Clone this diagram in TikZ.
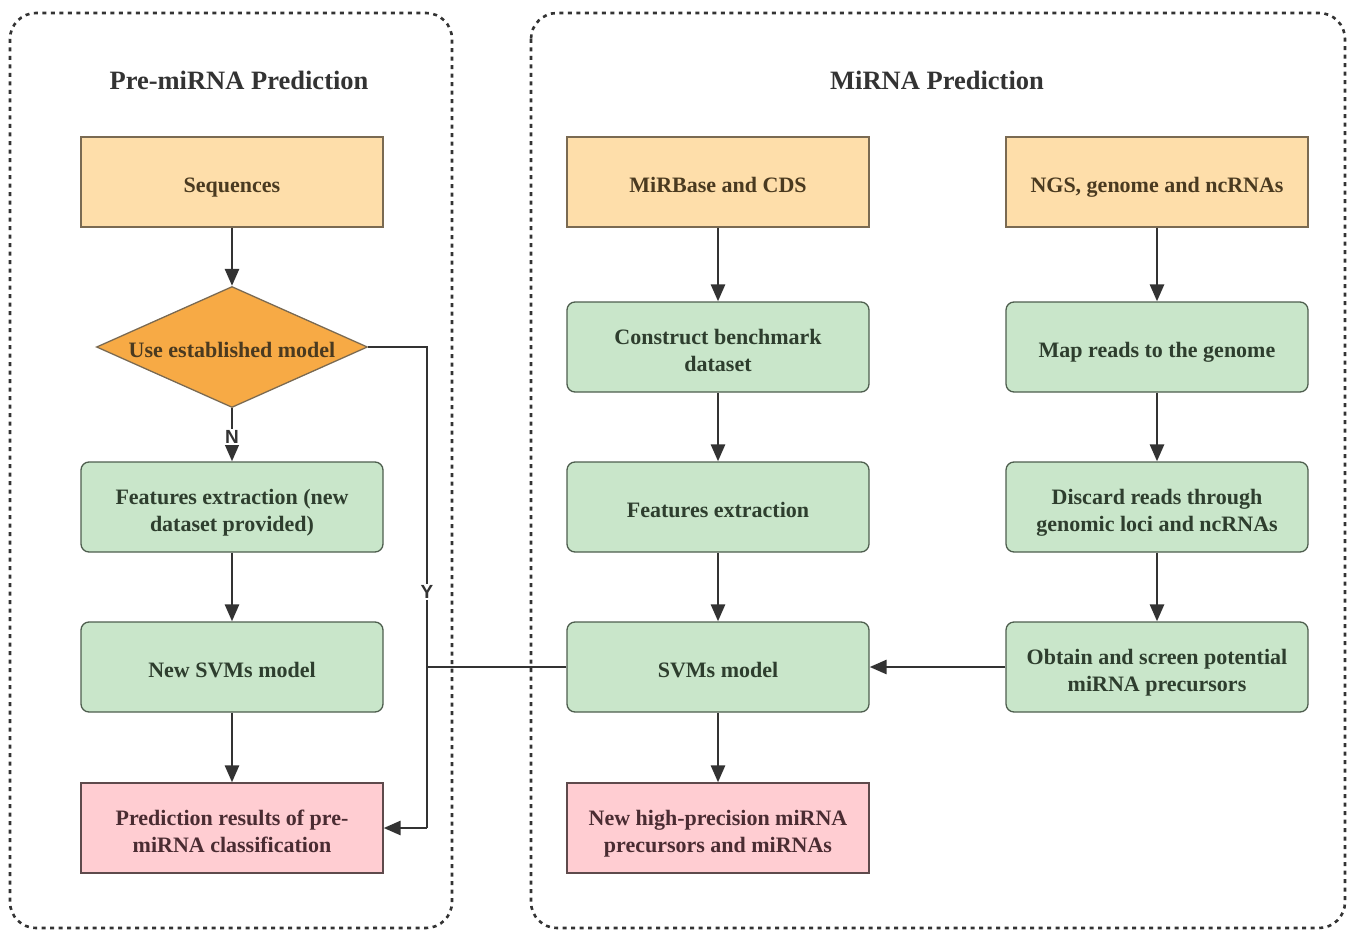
\documentclass[tikz,border=0pt]{standalone}
\usepackage{fontspec}
\setmainfont{Liberation Serif}
\newfontfamily\labelfont{Liberation Sans}
\usetikzlibrary{shapes.geometric,arrows.meta}
\definecolor{orfill}{HTML}{FEDEAA}
\definecolor{ordraw}{HTML}{7A6A52}
\definecolor{ortext}{HTML}{4A3A20}
\definecolor{grfill}{HTML}{C9E6CA}
\definecolor{grdraw}{HTML}{4E5E4E}
\definecolor{grtext}{HTML}{2E3E2E}
\definecolor{pkfill}{HTML}{FFCDD2}
\definecolor{pkdraw}{HTML}{5E4A4C}
\definecolor{pktext}{HTML}{4A2C32}
\definecolor{dmfill}{HTML}{F7AA45}
\definecolor{linec}{HTML}{333333}
\newcommand{\twolines}[2]{\raisebox{-5.5pt}[\height][\depth]{\begin{tabular}{@{}c@{}}#1\\#2\end{tabular}}}
\tikzset{
  boxbase/.style={minimum width=302pt, minimum height=90pt, inner sep=0pt, align=center,
    font=\fontsize{22}{27}\selectfont\bfseries, line width=1.3pt},
  orbox/.style={boxbase, fill=orfill, draw=ordraw, text=ortext},
  grbox/.style={boxbase, fill=grfill, draw=grdraw, text=grtext, rounded corners=8pt},
  pkbox/.style={boxbase, fill=pkfill, draw=pkdraw, text=pktext},
  oneline/.style={text height=24pt, text depth=3pt},
  dmbox/.style={diamond, aspect=2.24, minimum width=271pt, minimum height=121pt, inner sep=0pt,
    fill=dmfill, draw=ordraw, line width=1.3pt, text=ortext, font=\fontsize{22}{27}\selectfont\bfseries,
    text height=23pt, text depth=3pt},
  conn/.style={draw=linec, line width=2.8pt},
  arr/.style={conn, -{Triangle[length=17pt,width=14pt]}},
  container/.style={draw=linec, line width=2.6pt, dash pattern=on 4pt off 4.5pt, rounded corners=26pt},
  ttl/.style={font=\fontsize{26.5}{30}\selectfont\bfseries, text=linec},
  yn/.style={font=\labelfont\fontsize{19}{22}\selectfont\bfseries, text=linec, fill=white, inner sep=1.5pt}
}
\begin{document}
\begin{tikzpicture}[x=1pt,y=-1pt]
\useasboundingbox (0,0) rectangle (1351,931);
% containers
\draw[container] (10,13) rectangle (452,928);
\draw[container] (531,13) rectangle (1345,928);
\node[ttl] (t1) at (239,80) {Pre-miRNA Prediction};
\node[ttl] (t2) at (937,80) {MiRNA Prediction};
% left column
\node[orbox, oneline] (seq) at (232,182) {Sequences};
\node[dmbox] (dia) at (232,347) {Use established model};
\node[grbox] (feat1) at (232,507) {\twolines{Features extraction (new}{dataset provided)}};
\node[grbox, oneline] (nsvm) at (232,667) {New SVMs model};
\node[pkbox] (pred) at (232,828) {\twolines{Prediction results of pre-}{miRNA classification}};
% middle column
\node[orbox, oneline] (mir) at (718,182) {MiRBase and CDS};
\node[grbox] (cons) at (718,347) {\twolines{Construct benchmark}{dataset}};
\node[grbox, oneline] (feat2) at (718,507) {Features extraction};
\node[grbox, oneline] (svm) at (718,667) {SVMs model};
\node[pkbox] (newhp) at (718,828) {\twolines{New high-precision miRNA}{precursors and miRNAs}};
% right column
\node[orbox, oneline] (ngs) at (1157,182) {NGS, genome and ncRNAs};
\node[grbox, oneline] (map) at (1157,347) {Map reads to the genome};
\node[grbox] (disc) at (1157,507) {\twolines{Discard reads through}{genomic loci and ncRNAs}};
\node[grbox] (obt) at (1157,667) {\twolines{Obtain and screen potential}{miRNA precursors}};
% helper coordinates
\coordinate (yt) at (427,347);
\coordinate (yj) at (427,667);
\coordinate (yb) at (427,828);
% connectors
\draw[arr] (seq) -- (dia);
\draw[arr] (dia.south) -- node[yn, pos=0.55] {N} (feat1.north);
\draw[arr] (feat1) -- (nsvm);
\draw[arr] (nsvm) -- (pred);
\draw[conn] (dia.east) -- (yt) -- node[yn, pos=0.51] {Y} (yb);
\draw[arr] (yb) -- (pred.east);
\draw[conn] (svm.west) -- (yj);
\draw[arr] (mir) -- (cons);
\draw[arr] (cons) -- (feat2);
\draw[arr] (feat2) -- (svm);
\draw[arr] (svm) -- (newhp);
\draw[arr] (ngs) -- (map);
\draw[arr] (map) -- (disc);
\draw[arr] (disc) -- (obt);
\draw[arr] (obt.west) -- (svm.east);
\end{tikzpicture}
\end{document}
